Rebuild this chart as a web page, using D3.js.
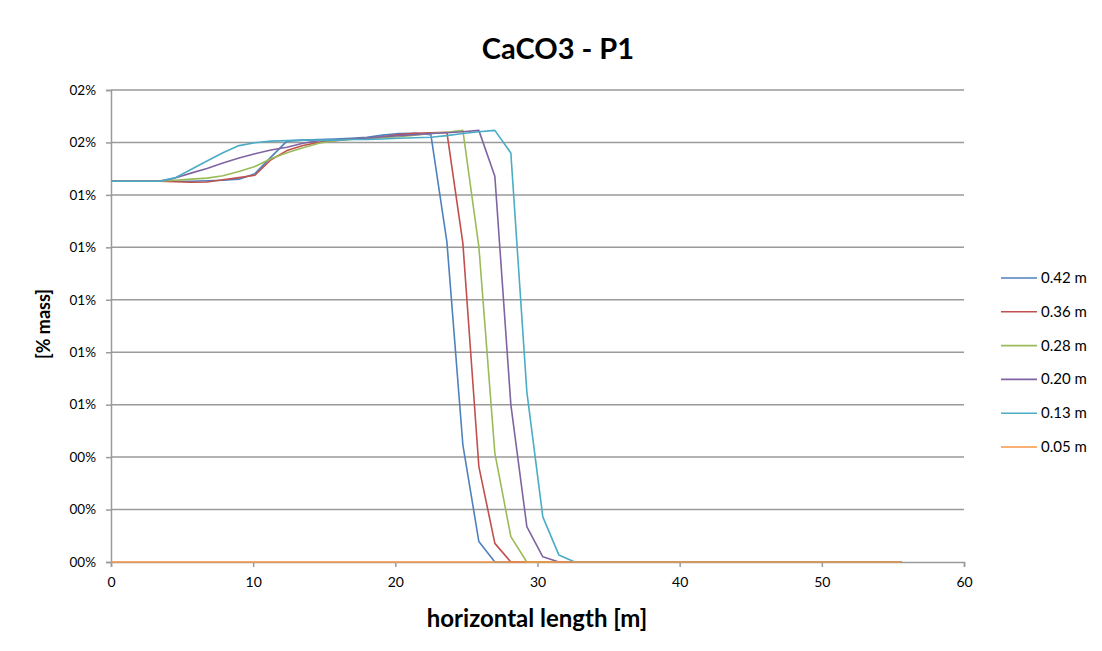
<!DOCTYPE html>
<html>
<head>
<meta charset="utf-8">
<script src="https://cdn.jsdelivr.net/npm/d3@7"></script>
<style>
  html, body { margin: 0; padding: 0; background: #fff; }
  svg { display: block; }
  text { font-family: Lato, "Open Sans", sans-serif; fill: #000; }
</style>
</head>
<body>
<svg id="chart" width="1102" height="651"></svg>
<script>
// ---- data (values in % mass) ----
const xValues = [0, 1.125, 2.25, 3.375, 4.5, 5.625, 6.75, 7.875, 9, 10.125, 11.25, 12.375, 13.5, 14.625, 15.75, 16.875, 18, 19.125, 20.25, 21.375, 22.5, 23.625, 24.75, 25.875, 27, 28.125, 29.25, 30.375, 31.5, 32.625, 55.6];

const s042 = [1.452, 1.452, 1.452, 1.452, 1.452, 1.452, 1.454, 1.456, 1.460, 1.481, 1.544, 1.605, 1.609, 1.611, 1.613, 1.616, 1.620, 1.628, 1.634, 1.635, 1.630, 1.222, 0.447, 0.078, 0, 0, 0, 0, 0, 0, 0];
const s036 = [1.452, 1.452, 1.452, 1.452, 1.450, 1.448, 1.449, 1.458, 1.466, 1.475, 1.534, 1.569, 1.588, 1.601, 1.607, 1.613, 1.616, 1.622, 1.630, 1.635, 1.637, 1.639, 1.216, 0.364, 0.071, 0, 0, 0, 0, 0, 0];
const s028 = [1.452, 1.452, 1.452, 1.452, 1.456, 1.460, 1.464, 1.473, 1.489, 1.508, 1.538, 1.561, 1.580, 1.597, 1.607, 1.611, 1.615, 1.618, 1.622, 1.628, 1.634, 1.639, 1.646, 1.203, 0.415, 0.097, 0, 0, 0, 0, 0];
const s020 = [1.452, 1.452, 1.452, 1.452, 1.464, 1.483, 1.501, 1.522, 1.541, 1.557, 1.571, 1.582, 1.597, 1.607, 1.609, 1.613, 1.616, 1.622, 1.626, 1.630, 1.634, 1.637, 1.641, 1.646, 1.471, 0.600, 0.135, 0.020, 0, 0, 0];
const s013 = [1.452, 1.452, 1.452, 1.452, 1.465, 1.497, 1.529, 1.561, 1.588, 1.599, 1.605, 1.607, 1.609, 1.609, 1.609, 1.611, 1.611, 1.613, 1.616, 1.618, 1.620, 1.626, 1.634, 1.641, 1.646, 1.560, 0.649, 0.172, 0.027, 0, 0];
const s005 = [0, 0, 0, 0, 0, 0, 0, 0, 0, 0, 0, 0, 0, 0, 0, 0, 0, 0, 0, 0, 0, 0, 0, 0, 0, 0, 0, 0, 0, 0, 0];

const seriesNames = ["0.42 m", "0.36 m", "0.28 m", "0.20 m", "0.13 m", "0.05 m"];
const seriesColors = ["#4F81BD", "#C0504D", "#9BBB59", "#8064A2", "#4BACC6", "#F79646"];
const seriesValues = [s042, s036, s028, s020, s013, s005];

const yTicks = [0, 0.2, 0.4, 0.6, 0.8, 1.0, 1.2, 1.4, 1.6, 1.8];
const xTicks = [0, 10, 20, 30, 40, 50, 60];

const titleText = "CaCO3 - P1";
const xTitle = "horizontal length [m]";
const yTitle = "[% mass]";

// ---- drawing ----
const svg = d3.select("#chart");
const x = d3.scaleLinear().domain([0, 60]).range([111, 964]);
const y = d3.scaleLinear().domain([0, 1.8]).range([562, 90]);
const fmtY = v => String(Math.round(v + 1e-9)).padStart(2, "0") + "%";

// gridlines
svg.append("g").selectAll("line").data(yTicks.slice(1)).join("line")
  .attr("x1", x(0)).attr("x2", x(60))
  .attr("y1", d => y(d)).attr("y2", d => y(d))
  .attr("stroke", "#9a9a9a").attr("stroke-width", 1.5);

// y axis
const yAxis = d3.axisLeft(y).tickValues(yTicks).tickFormat(fmtY).tickSize(5).tickPadding(10);
const gy = svg.append("g").attr("transform", `translate(${x(0)},0)`).call(yAxis);
gy.select(".domain").attr("stroke", "#9a9a9a").attr("stroke-width", 1.5);
gy.selectAll(".tick line").attr("stroke", "#9a9a9a").attr("stroke-width", 1.5);
gy.selectAll(".tick text").style("font-family", "Lato, sans-serif").style("font-size", "13.5px").attr("fill", "#222");

// x axis
const xAxis = d3.axisBottom(x).tickValues(xTicks).tickFormat(d3.format("d")).tickSize(5).tickPadding(10);
const gx = svg.append("g").attr("transform", `translate(0,${y(0)})`).call(xAxis);
gx.select(".domain").attr("stroke", "#9a9a9a").attr("stroke-width", 1.5);
gx.selectAll(".tick line").attr("stroke", "#9a9a9a").attr("stroke-width", 1.5);
gx.selectAll(".tick text").style("font-family", "Lato, sans-serif").style("font-size", "14px").attr("fill", "#222");

// lines
const line = d3.line().x((d, i) => x(xValues[i])).y(d => y(d));
svg.append("g").selectAll("path").data(seriesValues).join("path")
  .attr("d", d => line(d))
  .attr("fill", "none")
  .attr("stroke", (d, i) => seriesColors[i])
  .attr("stroke-width", 1.6)
  .attr("stroke-linejoin", "round");

// titles
svg.append("text").attr("x", 558).attr("y", 59).attr("text-anchor", "middle")
  .style("font-size", "29px").style("font-weight", "bold").text(titleText);
svg.append("text").attr("x", 537).attr("y", 627).attr("text-anchor", "middle")
  .style("font-size", "24px").style("font-weight", "bold").text(xTitle);
svg.append("text").attr("transform", "translate(50,324) rotate(-90)").attr("text-anchor", "middle")
  .style("font-size", "18px").style("font-weight", "bold").text(yTitle);

// legend
const lg = svg.append("g").selectAll("g").data(seriesNames).join("g")
  .attr("transform", (d, i) => `translate(1001,${278 + i * 33.8})`);
lg.append("line").attr("x1", 0).attr("x2", 36).attr("y1", 0).attr("y2", 0)
  .attr("stroke", (d, i) => seriesColors[i]).attr("stroke-width", 1.6);
lg.append("text").attr("x", 40).attr("y", 5).style("font-size", "15px").text(d => d);
</script>
</body>
</html>
